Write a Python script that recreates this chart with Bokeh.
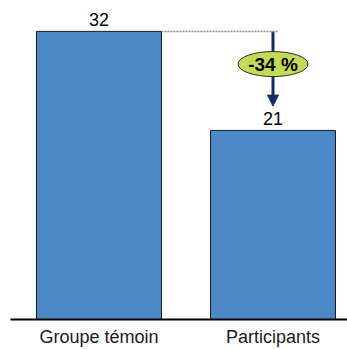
from bokeh.plotting import figure
from bokeh.models import Range1d, FixedTicker, Arrow, NormalHead, ColumnDataSource
from bokeh.core.properties import value
from bokeh.embed import file_html
from bokeh.resources import INLINE

categories = ["Groupe témoin", "Participants"]
values = [32, 21]

xs = list(range(len(categories)))
pct = round((values[1] - values[0]) / values[0] * 100)
pct_label = f"{pct} %"

FONT = "Liberation Sans"
BAR_COLOR = "#4d89c8"

p = figure(width=347, height=349, output_backend="svg", toolbar_location=None,
           x_range=Range1d(-0.5086, 1.4282), y_range=Range1d(0, 35.43),
           min_border_left=10, min_border_right=0, min_border_top=0, min_border_bottom=0)
p.outline_line_color = None
p.xgrid.visible = False
p.ygrid.visible = False
p.yaxis.visible = False
p.background_fill_color = "white"
p.border_fill_color = "white"

src = ColumnDataSource(dict(x=xs, top=values, lab=[str(v) for v in values]))

p.vbar(x="x", top="top", width=0.718, bottom=0, source=src,
       fill_color=BAR_COLOR, line_color="#1a1a1a", line_width=1)

p.text(x="x", y="top", text="lab", source=src, text_align="center",
       text_baseline="alphabetic", y_offset=-12, text_font=value(FONT),
       text_font_size="18px", text_color="black")

# dotted reference line from bar 1 top
bw = 0.718
p.segment(x0=[xs[0] + bw / 2], y0=[values[0]], x1=[xs[1] + 0.03], y1=[values[0]],
          line_color="#8c8c8c", line_width=1.5, line_dash="2 1")

# arrow
arrow = Arrow(x_start=xs[1], y_start=values[0], x_end=xs[1], y_end=values[1] + 2.7,
              line_color="#0f2f66", line_width=3,
              end=NormalHead(size=11, fill_color="#0f2f66", line_color="#0f2f66"),
              level="underlay")
p.add_layout(arrow)

ey = values[0] - 0.33 * (values[0] - values[1])
p.ellipse(x=[xs[1]], y=[ey], width=70, height=25, width_units="screen",
          height_units="screen", fill_color="#c5d958", line_color="#2a2a2a", line_width=1)
p.text(x=[xs[1]], y=[ey], text=[pct_label], text_align="center", text_baseline="middle",
       text_font=value(FONT), text_font_size="19px", text_font_style="bold",
       text_color="black")

xa = p.xaxis[0]
xa.ticker = FixedTicker(ticks=xs)
xa.major_label_overrides = {i: c for i, c in zip(xs, categories)}
xa.major_tick_line_color = None
xa.minor_tick_line_color = None
xa.major_tick_out = 0
xa.major_tick_in = 0
xa.axis_line_color = "black"
xa.axis_line_width = 2
xa.major_label_text_font = FONT
xa.major_label_text_font_size = "18px"
xa.major_label_text_line_height = 1.0
xa.major_label_text_color = "#1a1a1a"
xa.major_label_standoff = 7

open("out.html", "w").write(file_html(p, INLINE))
